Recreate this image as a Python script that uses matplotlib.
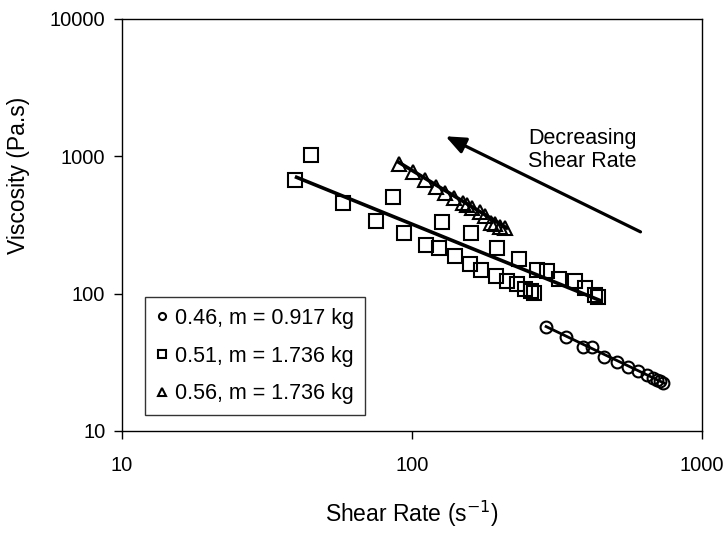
import numpy as np
import matplotlib
matplotlib.use('Agg')
import matplotlib.pyplot as plt

plt.rcParams['font.family'] = ['Liberation Sans', 'DejaVu Sans']

# series (shear rate 1/s, viscosity Pa.s)
rate_046 = [290, 340, 390, 417, 459, 508, 557, 603, 645, 676, 698, 716, 735]
visc_046 = [57.4, 48.0, 41.0, 40.6, 34.7, 31.9, 29.4, 27.3, 25.6, 24.2, 23.5, 23.2, 22.4]

rate_051 = [39.6, 44.7, 57.7, 75.4, 86.3, 93.5, 112, 124, 127, 141, 158, 160, 173, 196,
            195, 212, 230, 233, 246, 257, 264, 270, 291, 321, 365, 395, 428, 438]
visc_051 = [669, 1021, 452, 339, 507, 275, 226, 216, 331, 187, 165, 275, 149, 216,
            135, 124, 118, 177, 107, 104, 101, 149, 145, 128, 123, 110, 97.5, 94.4]

rate_056 = [90.4, 100.5, 111, 121, 130, 140, 150, 155, 161, 172, 179, 187, 193, 201, 209]
visc_056 = [875, 761, 669, 598, 541, 493, 457, 440, 421, 392, 366, 327, 320, 303, 298]

# trend line end points
fit_046 = ([290, 740], [57.5, 22.3])
fit_051 = ([40, 445], [700, 89])
fit_056 = ([90, 212], [900, 300])

labels = ['0.46, m = 0.917 kg', '0.51, m = 1.736 kg', '0.56, m = 1.736 kg']

fig = plt.figure(figsize=(7.24, 5.35), dpi=100)
ax = fig.add_axes([0.1685, 0.1944, 0.8011, 0.771])

ax.plot(rate_046, visc_046, 'o', ms=8.5, mfc='none', mec='black', mew=1.5, label=labels[0])
ax.plot(rate_051, visc_051, 's', ms=10, mfc='none', mec='black', mew=1.5, label=labels[1])
ax.plot(rate_056, visc_056, '^', ms=9.5, mfc='none', mec='black', mew=1.5, label=labels[2])

ax.plot(fit_046[0], fit_046[1], color='black', lw=2)
ax.plot(fit_051[0], fit_051[1], color='black', lw=2.6)
ax.plot(fit_056[0], fit_056[1], color='black', lw=2.6)

ax.set_xscale('log')
ax.set_yscale('log')
ax.set_xlim(10, 1000)
ax.set_ylim(10, 10000)
ax.xaxis.set_major_formatter(matplotlib.ticker.FormatStrFormatter('%d'))
ax.yaxis.set_major_formatter(matplotlib.ticker.FormatStrFormatter('%d'))
ax.minorticks_off()
ax.tick_params(direction='out', length=6, width=1, labelsize=14.5, pad=6)
ax.tick_params(axis='x', pad=12)
for s in ax.spines.values():
    s.set_linewidth(1)

ax.set_xlabel('Shear Rate (s$^{-1}$)', fontsize=16.5, labelpad=17)
ax.set_ylabel('Viscosity (Pa.s)', fontsize=16.5)
ax.yaxis.set_label_coords(-0.158, 0.62)

ax.annotate('', xy=(128, 1420), xytext=(626, 275),
            arrowprops=dict(arrowstyle='-|>,head_length=1.2,head_width=0.5',
                            color='black', lw=2.3))
ax.text(386, 1110, 'Decreasing\nShear Rate', ha='center', va='center',
        fontsize=15.5, linespacing=1.1)

leg = ax.legend(loc='upper left', bbox_to_anchor=(145 / 724, 1 - 297 / 535),
                bbox_transform=fig.transFigure, fontsize=15.5, frameon=True,
                fancybox=False, edgecolor='black', handlelength=0.6,
                handletextpad=0.3, borderpad=0.5, labelspacing=0.78,
                markerscale=0.6, borderaxespad=0)
leg.get_frame().set_linewidth(1)

fig.savefig('out.png', dpi=100)
